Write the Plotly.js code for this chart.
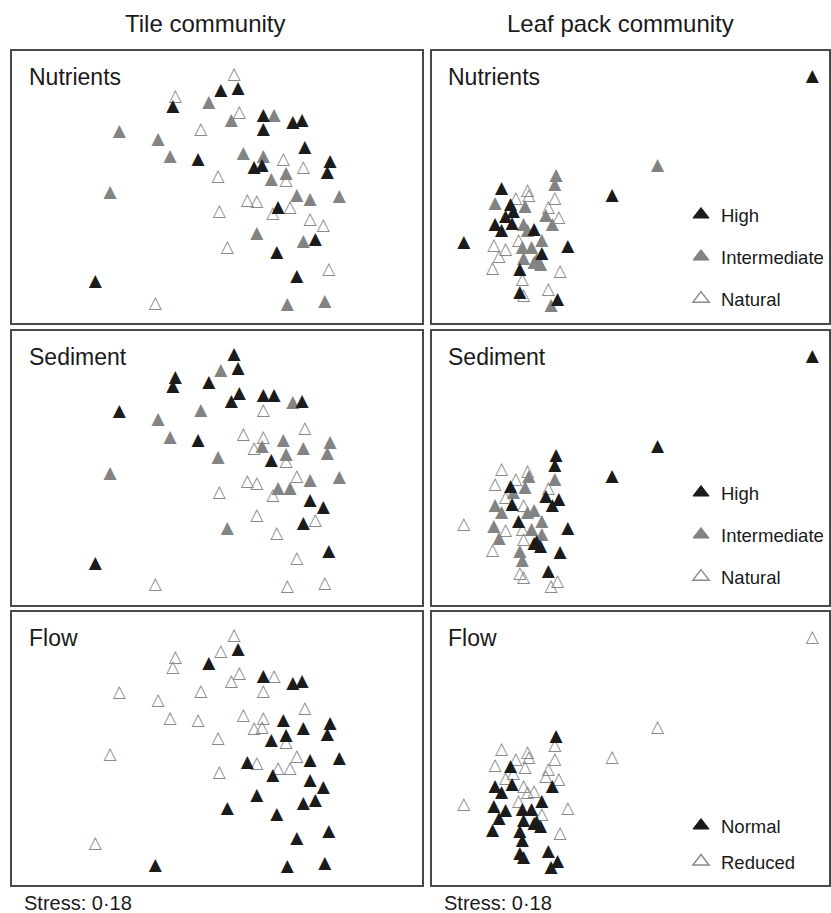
<!DOCTYPE html>
<html>
<head>
<meta charset="utf-8">
<script src="https://cdn.plot.ly/plotly-3.0.1.min.js"></script>
<style>html,body{margin:0;padding:0;background:#fff;}#chart{width:831px;height:913px;}</style>
</head>
<body>
<div id="chart"></div>
<script>
// ---- Tile community NMDS scores (54 sites) ----
const tileX = [0.13,0.03,0.16,-0.31,-0.33,-0.06,0.17,0.11,0.35,0.43,0.57,0.64,0.35,-0.73,-0.12,-0.44,-0.35,-0.14,0.20,0.35,0.28,0.34,0.50,0.66,0.65,0.85,0.83,0.01,0.41,0.52,0.52,-0.80,0.60,0.70,0.92,0.23,0.30,0.46,0.55,0.42,0.02,0.70,0.80,0.30,0.65,0.74,0.08,0.45,0.84,0.60,-0.91,-0.46,0.53,0.81];
const tileY = [0.83,0.71,0.72,0.66,0.59,0.62,0.54,0.48,0.52,0.52,0.47,0.48,0.41,0.40,0.41,0.34,0.21,0.19,0.23,0.21,0.13,0.14,0.19,0.28,0.13,0.17,0.09,0.06,0.04,0.08,0.03,-0.06,-0.08,-0.11,-0.09,-0.12,-0.13,-0.17,-0.17,-0.22,-0.20,-0.26,-0.31,-0.37,-0.43,-0.41,-0.47,-0.51,-0.64,-0.69,-0.73,-0.89,-0.90,-0.88];
const tileNutrients = ["Natural","High","High","Natural","High","Intermediate","Natural","Intermediate","High","Intermediate","High","High","High","Intermediate","Natural","Intermediate","Intermediate","High","Intermediate","Intermediate","High","High","Natural","High","Natural","High","High","Natural","Intermediate","Intermediate","Natural","Intermediate","Intermediate","Intermediate","Intermediate","Natural","Natural","High","Natural","Natural","Natural","Natural","Natural","Intermediate","Intermediate","High","Natural","High","Natural","High","High","Natural","Intermediate","Intermediate"];
const tileSediment = ["High","Intermediate","High","High","High","High","High","High","High","High","Intermediate","High","Natural","High","Intermediate","Intermediate","Intermediate","High","Natural","Natural","Natural","Intermediate","Intermediate","Natural","Intermediate","Intermediate","Intermediate","Intermediate","High","Intermediate","Natural","Intermediate","Natural","Intermediate","Intermediate","Natural","Natural","Intermediate","Intermediate","Natural","Natural","High","High","Natural","High","Natural","Intermediate","Natural","High","Natural","High","Natural","Natural","Natural"];
const tileFlow = ["Reduced","Reduced","Normal","Reduced","Reduced","Normal","Reduced","Reduced","Normal","Reduced","Normal","Normal","Reduced","Reduced","Reduced","Reduced","Reduced","Reduced","Reduced","Reduced","Reduced","Reduced","Normal","Reduced","Normal","Normal","Normal","Reduced","Normal","Normal","Reduced","Reduced","Reduced","Normal","Normal","Normal","Reduced","Reduced","Reduced","Normal","Reduced","Normal","Normal","Normal","Normal","Normal","Normal","Normal","Normal","Normal","Reduced","Normal","Normal","Normal"];

// ---- Leaf pack community NMDS scores ----
const leafX = [1.94,0.75,0.40,-0.03,-0.04,-0.04,-0.45,-0.25,-0.24,-0.34,-0.50,-0.38,-0.27,-0.09,-0.11,-0.01,-0.06,-0.42,-0.36,-0.50,-0.37,-0.45,-0.28,-0.25,-0.20,-0.32,-0.14,-0.29,-0.22,-0.51,-0.42,-0.47,-0.14,-0.28,-0.20,-0.15,-0.52,-0.31,0.00,-0.29,-0.09,-0.31,-0.28,-0.02,-0.07,-0.74,0.06,-0.18];
const leafY = [0.95,0.26,0.03,0.19,0.12,0.01,0.09,0.07,0.03,0.01,-0.03,-0.04,-0.05,-0.06,-0.12,-0.14,-0.19,-0.13,-0.09,-0.19,-0.18,-0.24,-0.19,-0.24,-0.23,-0.31,-0.31,-0.37,-0.37,-0.35,-0.38,-0.44,-0.41,-0.45,-0.48,-0.50,-0.53,-0.54,-0.55,-0.61,-0.69,-0.71,-0.74,-0.77,-0.81,-0.33,-0.36,-0.46];
const leafNutrients = ["High","Intermediate","High","Intermediate","Intermediate","Natural","High","Natural","Natural","Natural","Intermediate","High","Intermediate","Natural","Intermediate","Natural","Intermediate","High","High","High","High","High","Intermediate","Intermediate","High","Natural","Intermediate","Intermediate","Intermediate","Natural","Natural","Natural","High","Intermediate","Intermediate","Intermediate","Natural","High","Natural","Natural","Natural","High","Natural","High","Intermediate","High","High","Intermediate"];
const leafSediment = ["High","High","High","High","High","Intermediate","Natural","Natural","Intermediate","Natural","Natural","High","Intermediate","Natural","High","High","High","Natural","Intermediate","Intermediate","High","Intermediate","Natural","Intermediate","Intermediate","High","Intermediate","Natural","Intermediate","Intermediate","Natural","Intermediate","Intermediate","Natural","High","High","Natural","Intermediate","High","Intermediate","High","Natural","Natural","Natural","Natural","Natural","High","High"];
const leafFlow = ["Reduced","Reduced","Reduced","Normal","Reduced","Reduced","Reduced","Reduced","Reduced","Reduced","Reduced","Normal","Reduced","Reduced","Reduced","Reduced","Normal","Reduced","Reduced","Normal","Normal","Normal","Reduced","Reduced","Reduced","Reduced","Normal","Normal","Normal","Normal","Normal","Normal","Reduced","Normal","Normal","Normal","Normal","Normal","Reduced","Normal","Normal","Normal","Normal","Normal","Normal","Reduced","Reduced","Normal"];

const panelLabels = ["Nutrients","Sediment","Flow"];
const columnTitles = ["Tile community","Leaf pack community"];
const stressText = "Stress: 0\u00B718";

// ---- styles ----
const FONT = "Liberation Sans, Arial, Helvetica, sans-serif";
const GLYPH_FONT = "DejaVu Sans";
const styles = {
  High:        {glyph:"\u25B2", color:"#1b1b1b", symbol:"triangle-up"},
  Normal:      {glyph:"\u25B2", color:"#1b1b1b", symbol:"triangle-up"},
  Intermediate:{glyph:"\u25B2", color:"#838383", symbol:"triangle-up"},
  Natural:     {glyph:"\u25B3", color:"#8a8a8a", symbol:"triangle-up-open"},
  Reduced:     {glyph:"\u25B3", color:"#8a8a8a", symbol:"triangle-up-open"}
};
const drawOrder = {3:["Natural","Intermediate","High"], 2:["Reduced","Normal"]};
const rank = {High:1, Intermediate:2, Natural:3, Normal:1, Reduced:2};

const traces = [];
function axName(k, letter){ return letter + (k===1 ? "" : k); }
function addPanel(xs, ys, groups, axIdx, legendId){
  const cats = groups.includes("Normal") ? drawOrder[2] : drawOrder[3];
  cats.forEach(c => {
    const idx = groups.map((g,i)=> g===c ? i : -1).filter(i=>i>=0);
    const st = styles[c];
    // sites, drawn as triangle glyphs positioned by the axes
    traces.push({
      type:"scatter", mode:"text",
      x: idx.map(i=>xs[i]), y: idx.map(i=>ys[i]),
      text: idx.map(()=>st.glyph),
      textposition:"middle center",
      textfont:{family:GLYPH_FONT, size:17, color:st.color},
      xaxis: axName(axIdx,"x"), yaxis: axName(axIdx,"y"),
      name: c, showlegend:false, hoverinfo:"skip", cliponaxis:false
    });
  });
  if (legendId){
    cats.forEach(c => {
      const st = styles[c];
      traces.push({
        type:"scatter", mode:"markers", x:[null], y:[null],
        xaxis: axName(axIdx,"x"), yaxis: axName(axIdx,"y"),
        name: c, showlegend:true, legend: legendId,
        legendgroup: legendId + c, legendrank: rank[c], hoverinfo:"skip",
        marker:{symbol: st.symbol, size: 14, color: st.color,
                line:{color: st.color, width: st.symbol.endsWith("open") ? 1.5 : 1}}
      });
    });
  }
}
// tile (left column) axes 1,3,5 ; leaf (right column) axes 2,4,6
addPanel(tileX, tileY, tileNutrients, 1, null);
addPanel(leafX, leafY, leafNutrients, 2, "legend");
addPanel(tileX, tileY, tileSediment, 3, null);
addPanel(leafX, leafY, leafSediment, 4, "legend2");
addPanel(tileX, tileY, tileFlow, 5, null);
addPanel(leafX, leafY, leafFlow, 6, "legend3");

const W = 831, H = 913;
const px = v => v / W, py = v => 1 - v / H;
const colX = [[12,422],[432,829]];
const rowY = [[51,323],[331,605],[612,885]];
const tileRange = {x:[-1.535,1.54], y:[-1.0375,1.005]};
const leafRange = {x:[-0.985,2.069], y:[-0.946,1.146]};

const layout = {
  width: W, height: H,
  margin: {l:0, r:0, t:0, b:0},
  paper_bgcolor: "#fff", plot_bgcolor: "#fff",
  font: {family: FONT, color: "#1a1a1a"},
  hovermode: false,
  annotations: []
};
function axisBase(){
  return {showline:true, mirror:true, linecolor:"#4a4a4a", linewidth:2,
          showgrid:false, zeroline:false, showticklabels:false, ticks:"", fixedrange:true};
}
for (let r=0; r<3; r++){
  for (let c=0; c<2; c++){
    const k = r*2 + c + 1;
    const rg = c===0 ? tileRange : leafRange;
    layout[axName(k,"xaxis")] = Object.assign(axisBase(), {domain:[px(colX[c][0]), px(colX[c][1])], range: rg.x, anchor: axName(k,"y")});
    layout[axName(k,"yaxis")] = Object.assign(axisBase(), {domain:[py(rowY[r][1]), py(rowY[r][0])], range: rg.y, anchor: axName(k,"x")});
    layout.annotations.push({
      text: panelLabels[r], xref:"paper", yref:"paper",
      x: px(colX[c][0] + (c===0?15:14)), y: py(rowY[r][0] + 26),
      xanchor:"left", yanchor:"middle", showarrow:false,
      font:{family:FONT, size:23, color:"#1a1a1a"}
    });
  }
}
[205, 620].forEach((cx,i)=>{
  layout.annotations.push({text: columnTitles[i], xref:"paper", yref:"paper",
    x: px(cx), y: py(23), xanchor:"center", yanchor:"middle", showarrow:false,
    font:{family:FONT, size:24, color:"#1a1a1a"}});
});
[22, 442].forEach(sx=>{
  layout.annotations.push({text: stressText, xref:"paper", yref:"paper",
    x: px(sx), y: py(903), xanchor:"left", yanchor:"middle", showarrow:false,
    font:{family:FONT, size:20, color:"#1a1a1a"}});
});
const legBase = {xanchor:"left", yanchor:"top", bgcolor:"rgba(0,0,0,0)", borderwidth:0,
  font:{family:FONT, size:18.5, color:"#1a1a1a"}, itemclick:false, itemdoubleclick:false};
layout.legend  = Object.assign({}, legBase, {x: px(681), y: py(196), tracegroupgap: 15});
layout.legend2 = Object.assign({}, legBase, {x: px(681), y: py(474), tracegroupgap: 15});
layout.legend3 = Object.assign({}, legBase, {x: px(681), y: py(807), tracegroupgap: 9});

Plotly.newPlot("chart", traces, layout, {displayModeBar:false, staticPlot:true});
</script>
</body>
</html>
